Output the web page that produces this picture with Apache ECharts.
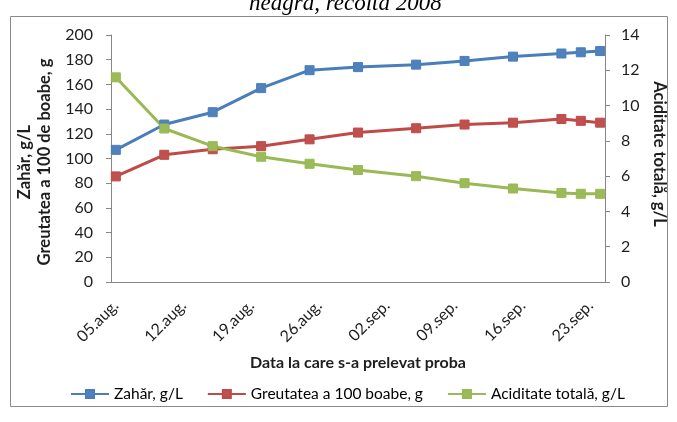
<!DOCTYPE html>
<html>
<head>
<meta charset="utf-8">
<title>Evoluția maturării strugurilor</title>
<script src="https://cdn.jsdelivr.net/npm/echarts@6/dist/echarts.min.js"></script>
<style>
  html, body { margin: 0; padding: 0; background: #ffffff; }
  #chart { width: 677px; height: 422px; }
</style>
</head>
<body>
<div id="chart"></div>
<script>
// Sampling dates (each one is a day on the date axis)
const sampleDates = ['05.aug.', '10.aug.', '15.aug.', '20.aug.', '25.aug.', '30.aug.',
                     '05.sep.', '10.sep.', '15.sep.', '20.sep.', '22.sep.', '24.sep.'];

// Sugar content, g/L (left axis)
const zahar = [107, 127.5, 137.5, 157, 171.5, 174, 176, 179, 182.5, 185, 186, 187];

// Weight of 100 berries, g (left axis)
const greutatea = [85.5, 103, 107.5, 110, 115.5, 121, 124.5, 127.5, 129, 132, 130.5, 129];

// Total acidity, g/L (right axis)
const aciditate = [11.6, 8.7, 7.7, 7.1, 6.7, 6.35, 6.0, 5.6, 5.3, 5.05, 5.0, 5.0];

// Date axis span: one category per day, 05.aug – 24.sep
const axisStart = Date.UTC(2008, 7, 5);
const axisDayCount = 51;
const monthAbbr = ['ian', 'feb', 'mar', 'apr', 'mai', 'iun', 'iul', 'aug', 'sep', 'oct', 'nov', 'dec'];
const axisDays = [];
for (let i = 0; i < axisDayCount; i++) {
  const d = new Date(axisStart + i * 86400000);
  const dd = String(d.getUTCDate()).padStart(2, '0');
  axisDays.push(dd + '.' + monthAbbr[d.getUTCMonth()] + '.');
}

const pairs = (vals) => sampleDates.map((day, i) => [day, vals[i]]);

const FONT = 'Lato';
const TEXT = '#1e1e1e';
const AXIS_GRAY = '#868686';

const chart = echarts.init(document.getElementById('chart'), null, { renderer: 'canvas' });

const lineSeries = (name, vals, axis, lineColor, fillColor) => ({
  name: name,
  type: 'line',
  yAxisIndex: axis,
  data: pairs(vals),
  symbol: 'rect',
  symbolSize: 9,
  showAllSymbol: true,
  lineStyle: { color: lineColor, width: 3 },
  itemStyle: { color: fillColor, borderColor: lineColor, borderWidth: 1 }
});

chart.setOption({
  backgroundColor: '#ffffff',
  animation: false,
  title: {
    text: 'neagră, recolta 2008',
    left: 244,
    top: -13,
    textStyle: {
      fontFamily: 'Liberation Serif',
      fontStyle: 'italic',
      fontWeight: 'normal',
      fontSize: 23,
      color: '#000000'
    }
  },
  graphic: [{
    type: 'rect',
    shape: { x: 10.5, y: 16.5, width: 657, height: 390 },
    style: { fill: 'none', stroke: '#8a8a8a', lineWidth: 1 },
    z: -1
  }],
  grid: { left: 111, right: 72, top: 35, bottom: 140 },
  legend: {
    left: 70,
    top: 386,
    padding: 0,
    itemWidth: 38,
    itemHeight: 10,
    itemGap: 24,
    textStyle: { fontFamily: FONT, fontSize: 15.5, color: '#000000' },
    data: ['Zahăr, g/L', 'Greutatea a 100 boabe, g', 'Aciditate totală, g/L']
  },
  xAxis: {
    type: 'category',
    data: axisDays,
    boundaryGap: true,
    name: 'Data la care s-a prelevat proba',
    nameLocation: 'middle',
    nameGap: 73,
    nameTextStyle: { fontFamily: FONT, fontSize: 16, fontWeight: 'bold', color: TEXT },
    axisLine: { lineStyle: { color: AXIS_GRAY, width: 1 } },
    axisTick: { show: false },
    axisLabel: {
      interval: 6,
      rotate: 45,
      margin: 21,
      fontFamily: FONT,
      fontSize: 16,
      color: TEXT
    },
    splitLine: { show: false }
  },
  yAxis: [{
    type: 'value',
    position: 'left',
    min: 0,
    max: 200,
    interval: 20,
    name: 'Zahăr, g/L\nGreutatea a 100 de boabe, g',
    nameLocation: 'middle',
    nameRotate: 90,
    nameGap: 45,
    nameTextStyle: {
      fontFamily: FONT, fontSize: 16.5, fontWeight: 'bold', color: TEXT,
      lineHeight: 20, padding: [0, 7, 0, 0]
    },
    axisLine: { show: true, lineStyle: { color: AXIS_GRAY, width: 1 } },
    axisTick: { show: true, length: 5, lineStyle: { color: AXIS_GRAY } },
    axisLabel: { margin: 18, fontFamily: FONT, fontSize: 16, color: TEXT },
    splitLine: { show: false }
  }, {
    type: 'value',
    position: 'right',
    min: 0,
    max: 14,
    interval: 2,
    name: 'Aciditate totală, g/L',
    nameLocation: 'middle',
    nameRotate: -90,
    nameGap: 44,
    nameTextStyle: {
      fontFamily: FONT, fontSize: 16.5, fontWeight: 'bold', color: TEXT,
      padding: [0, 9, 0, 0]
    },
    axisLine: { show: true, lineStyle: { color: AXIS_GRAY, width: 1 } },
    axisTick: { show: true, length: 5, lineStyle: { color: AXIS_GRAY } },
    axisLabel: { margin: 16, fontFamily: FONT, fontSize: 16, color: TEXT },
    splitLine: { show: false }
  }],
  series: [
    lineSeries('Zahăr, g/L', zahar, 0, '#4A7EBB', '#4F81BD'),
    lineSeries('Greutatea a 100 boabe, g', greutatea, 0, '#BE4B48', '#C0504D'),
    lineSeries('Aciditate totală, g/L', aciditate, 1, '#98B954', '#9BBB59')
  ]
});
</script>
</body>
</html>
